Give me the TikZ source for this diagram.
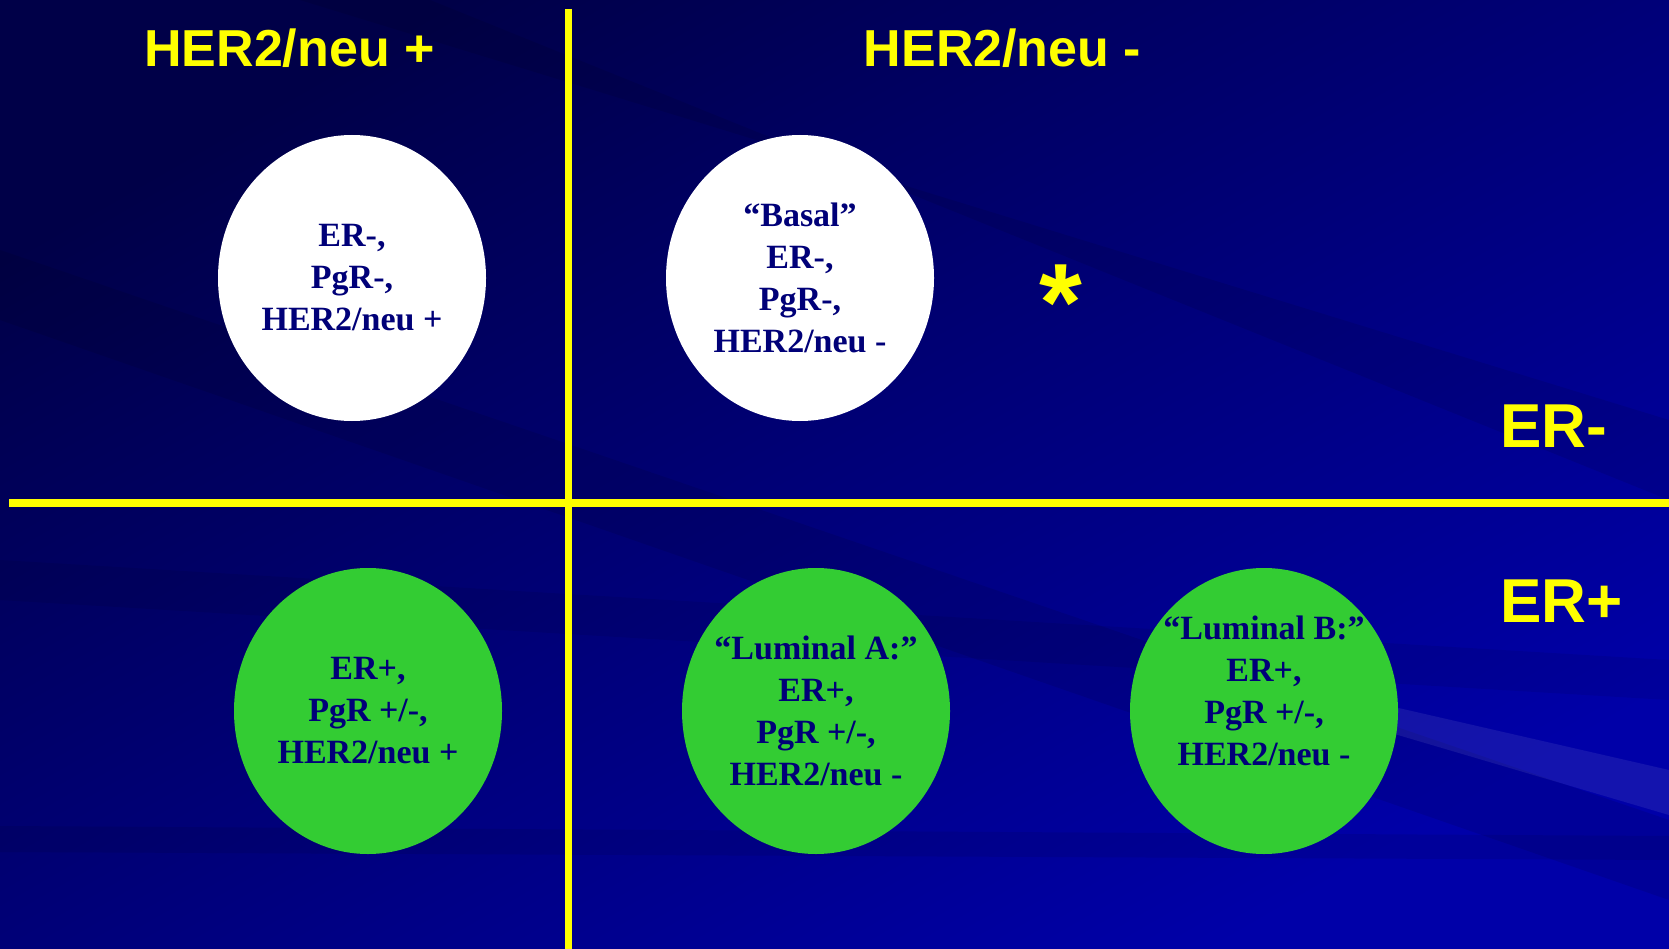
\documentclass[tikz,border=0pt]{standalone}
\usepackage{fontspec}
\setmainfont{Liberation Serif}
\setsansfont{Liberation Sans}
\usetikzlibrary{shapes.geometric}

\definecolor{bgtop}{RGB}{0,0,72}
\definecolor{bgbot}{RGB}{0,0,168}
\definecolor{markyellow}{RGB}{255,255,0}
\definecolor{cellgreen}{RGB}{51,204,51}
\definecolor{celltext}{RGB}{0,0,120}

\tikzset{
	divider/.style = {line width=7.5pt, markyellow},
	heading/.style = {markyellow, inner sep=0pt, anchor=base, font=\sffamily\bfseries\fontsize{52}{52}\selectfont},
	side/.style = {markyellow, inner sep=0pt, anchor=base west, font=\sffamily\bfseries\fontsize{62}{62}\selectfont},
	cell/.style = {ellipse, minimum width=268pt, minimum height=286pt, inner sep=0pt},
	cellnote/.style = {text=celltext, inner sep=0pt, align=center, font=\bfseries\fontsize{34}{42}\selectfont}
}

\begin{document}
\begin{tikzpicture}[x=1pt, y=-1pt]
	\useasboundingbox (0,0) rectangle (1669,949);
	\shade[top color=bgtop, bottom color=bgbot, shading angle=30] (0,0) rectangle (1669,949);
	\fill[black, opacity=0.09] (300,0) -- (430,0) -- (1669,500) -- (1669,420) -- cycle;
	\fill[black, opacity=0.09] (0,250) -- (0,320) -- (1669,900) -- (1669,820) -- cycle;
	\fill[black, opacity=0.07] (0,560) -- (0,600) -- (1669,700) -- (1669,660) -- cycle;
	\fill[black, opacity=0.08] (0,826) -- (1669,836) -- (1669,860) -- (0,852) -- cycle;
	\fill[white, opacity=0.08] (1320,690) -- (1669,770) -- (1669,815) -- (1320,712) -- cycle;
	\coordinate (vtop) at (568.5,9);
	\coordinate (vbot) at (568.5,949);
	\coordinate (hleft) at (9,503);
	\coordinate (hright) at (1669,503);
	\draw[divider] (vtop) -- (vbot);
	\draw[divider] (hleft) -- (hright);
	\node[heading] (herpos) at (289.5,67) {HER2/neu +};
	\node[heading] (herneg) at (1002.5,67) {HER2/neu -};
	\node[side] (erneg) at (1500,447) {ER-};
	\node[side] (erpos) at (1500,622) {ER+};
	\node[markyellow, inner sep=0pt, anchor=base, font=\sffamily\bfseries\fontsize{110}{110}\selectfont] (star) at (1061,340) {*};
	\node[cell, fill=white] (herplus) at (352,278) {};
	\node[cell, fill=white] (basal) at (800,278) {};
	\node[cell, fill=cellgreen] (erplus) at (368,711) {};
	\node[cell, fill=cellgreen] (luma) at (816,711) {};
	\node[cell, fill=cellgreen] (lumb) at (1264,711) {};
	\node[cellnote] (herplustext) at (herplus) {ER-,\\PgR-,\\HER2/neu +};
	\node[cellnote] (basaltext) at (basal) {“Basal”\\ER-,\\PgR-,\\HER2/neu -};
	\node[cellnote] (erplustext) at (erplus) {ER+,\\PgR +/-,\\HER2/neu +};
	\node[cellnote] (lumatext) at (luma) {“Luminal A:”\\ER+,\\PgR +/-,\\HER2/neu -};
	\node[cellnote, yshift=20pt] (lumbtext) at (lumb) {“Luminal B:”\\ER+,\\PgR +/-,\\HER2/neu -};
\end{tikzpicture}
\end{document}
